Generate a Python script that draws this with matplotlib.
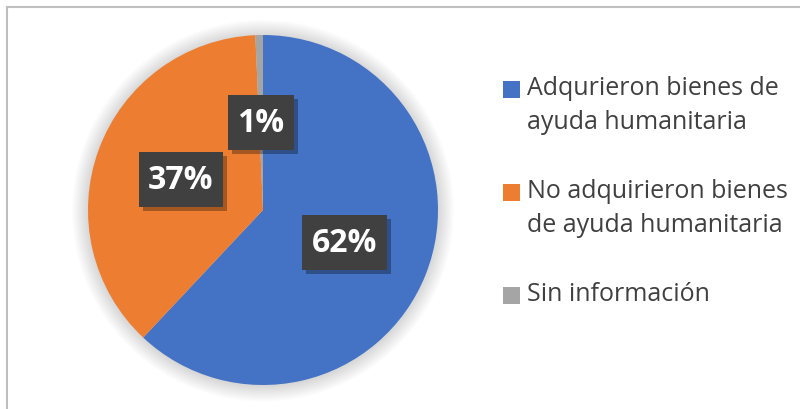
import matplotlib
matplotlib.use("Agg")
import matplotlib.pyplot as plt
from matplotlib.patches import Rectangle, Circle
from matplotlib.lines import Line2D
from matplotlib.path import Path
import matplotlib.patheffects as pe

# ---- data ----
categories = ["Adqurieron bienes de\nayuda humanitaria",
              "No adquirieron bienes\nde ayuda humanitaria",
              "Sin información"]
values = [62.0, 37.3, 0.7]
colors = ["#4472C4", "#ED7D31", "#A5A5A5"]

W, H = 800, 410
fig = plt.figure(figsize=(W / 100, H / 100), dpi=100)
fig.patch.set_facecolor("white")

# chart frame (top and left edges visible)
fig.add_artist(Line2D([7 / W, 7 / W], [0, 1 - 8 / H], transform=fig.transFigure,
                      color="#BFBFBF", lw=1.5))
fig.add_artist(Line2D([7 / W, 1], [1 - 8 / H, 1 - 8 / H], transform=fig.transFigure,
                      color="#BFBFBF", lw=1.5))

# pie axes: center (263,211) px, radius 175 px
cx, cy, r = 263, 211, 175
ax = fig.add_axes([(cx - r) / W, (H - cy - r) / H, 2 * r / W, 2 * r / H])
ax.set_xlim(-1, 1)
ax.set_ylim(-1, 1)
ax.set_aspect("equal")
ax.axis("off")

# soft shadow/glow around the pie
for i in range(14):
    ax.add_patch(Circle((0, -0.004), 1 + 0.007 * i, color="black",
                        alpha=0.010, lw=0, zorder=0, clip_on=False))

wedges, texts, autotexts = ax.pie(values, colors=colors, startangle=90,
                                  counterclock=False, radius=1,
                                  autopct="%1.0f%%", pctdistance=0.5,
                                  wedgeprops=dict(linewidth=0),
                                  textprops=dict(color="white", fontsize=23,
                                                 fontweight="bold",
                                                 family="Open Sans"))
ax.set_xlim(-1, 1)
ax.set_ylim(-1, 1)


def label_box(x0, y0, width, height, mutation_size):
    padx = 9.5
    half_h = 27.5
    ymid = y0 + height / 2
    xa, xb = x0 - padx, x0 + width + padx
    ya, yb = ymid - half_h, ymid + half_h
    return Path([(xa, ya), (xb, ya), (xb, yb), (xa, yb), (xa, ya)], closed=True)


for t in autotexts:
    t.set_bbox(dict(boxstyle=label_box, facecolor="#404040",
                    edgecolor="none", linewidth=0))
    t.get_bbox_patch().set_path_effects([
        pe.SimplePatchShadow(offset=(3, -3), shadow_rgbFace="black", alpha=0.3),
        pe.Normal()])

# legend (manual, marker aligned to first line)
leg_x = 503
leg_first_line_y = [90, 193, 296]
sq = 17
for lab, col, y in zip(categories, colors, leg_first_line_y):
    fig.add_artist(Rectangle((leg_x / W, (H - y - sq / 2) / H), sq / W, sq / H,
                             transform=fig.transFigure, facecolor=col,
                             edgecolor="none"))
    fig.text(527 / W, (H - y + 14) / H, lab, ha="left", va="top",
             fontsize=18, color="#404040", family="Open Sans",
             linespacing=1.45)

fig.savefig("out.png", dpi=100, facecolor="white")
